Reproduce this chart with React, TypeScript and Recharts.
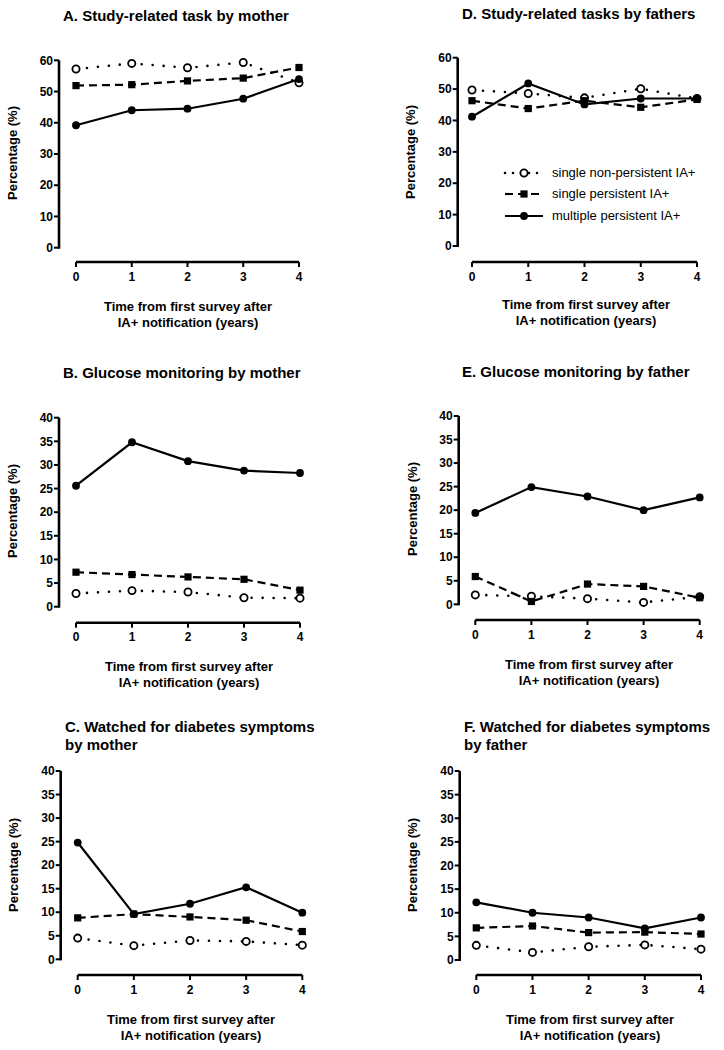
import React from 'react';
import { LineChart, Line, XAxis, YAxis } from 'recharts';

const years = [0, 1, 2, 3, 4];
const seriesNames = ['single non-persistent IA+', 'single persistent IA+', 'multiple persistent IA+'];
const xTitle = ['Time from first survey after', 'IA+ notification (years)'];
const yLabel = 'Percentage (%)';
const ticks60 = [0, 10, 20, 30, 40, 50, 60];
const ticks40 = [0, 5, 10, 15, 20, 25, 30, 35, 40];

const aNonPersistent = [57.2, 59.0, 57.6, 59.3, 52.8];
const aPersistent = [51.9, 52.2, 53.4, 54.3, 57.7];
const aMultiple = [39.2, 44.0, 44.5, 47.7, 54.0];

const dNonPersistent = [49.7, 48.6, 47.2, 50.1, 47.0];
const dPersistent = [46.3, 43.8, 46.3, 44.2, 46.7];
const dMultiple = [41.2, 51.8, 45.1, 47.0, 47.0];

const bNonPersistent = [2.8, 3.4, 3.1, 1.9, 1.8];
const bPersistent = [7.3, 6.8, 6.3, 5.8, 3.5];
const bMultiple = [25.6, 34.8, 30.8, 28.8, 28.3];

const eNonPersistent = [2.0, 1.7, 1.2, 0.4, 1.6];
const ePersistent = [5.9, 0.6, 4.3, 3.8, 1.4];
const eMultiple = [19.4, 24.9, 22.9, 20.0, 22.7];

const cNonPersistent = [4.5, 2.9, 4.0, 3.8, 3.0];
const cPersistent = [8.8, 9.6, 9.0, 8.3, 5.9];
const cMultiple = [24.8, 9.6, 11.8, 15.3, 9.9];

const fNonPersistent = [3.1, 1.6, 2.8, 3.2, 2.3];
const fPersistent = [6.8, 7.2, 5.8, 5.9, 5.5];
const fMultiple = [12.2, 10.0, 9.0, 6.7, 9.0];

const FONT = '"Liberation Sans", Arial, sans-serif';

type Panel = {
  id: string;
  title: string[];
  left: number;
  top: number;
  yAxisX: number;
  yTop: number;
  yZero: number;
  xAxisY: number;
  x0: number;
  x4: number;
  yMax: number;
  yTicks: number[];
  nonPersistent: number[];
  persistent: number[];
  multiple: number[];
  titleLeft: number;
  titleY: number;
  xTitleCx: number;
  xTitleY: number;
  yLabelCx: number;
  yLabelCy: number;
};

const panels: Panel[] = [
  { id: 'A', title: ['A. Study-related task by mother'], left: 0, top: 0, yAxisX: 59, yTop: 60.3, yZero: 247.7, xAxisY: 262, x0: 76, x4: 299, yMax: 60, yTicks: ticks60, nonPersistent: aNonPersistent, persistent: aPersistent, multiple: aMultiple, titleLeft: 63, titleY: 16, xTitleCx: 188, xTitleY: 307, yLabelCx: 12, yLabelCy: 153 },
  { id: 'D', title: ['D. Study-related tasks by fathers'], left: 362, top: 0, yAxisX: 457.7, yTop: 57.7, yZero: 246, xAxisY: 262, x0: 472, x4: 697, yMax: 60, yTicks: ticks60, nonPersistent: dNonPersistent, persistent: dPersistent, multiple: dMultiple, titleLeft: 462, titleY: 14, xTitleCx: 586, xTitleY: 305, yLabelCx: 410, yLabelCy: 152 },
  { id: 'B', title: ['B. Glucose monitoring by mother'], left: 0, top: 340, yAxisX: 59, yTop: 417.7, yZero: 606.7, xAxisY: 622.7, x0: 76, x4: 300, yMax: 40, yTicks: ticks40, nonPersistent: bNonPersistent, persistent: bPersistent, multiple: bMultiple, titleLeft: 63, titleY: 373, xTitleCx: 189, xTitleY: 667, yLabelCx: 12, yLabelCy: 511 },
  { id: 'E', title: ['E. Glucose monitoring by father'], left: 362, top: 340, yAxisX: 458.7, yTop: 416, yZero: 604.3, xAxisY: 620, x0: 475.3, x4: 699.7, yMax: 40, yTicks: ticks40, nonPersistent: eNonPersistent, persistent: ePersistent, multiple: eMultiple, titleLeft: 462, titleY: 372, xTitleCx: 589, xTitleY: 665, yLabelCx: 412, yLabelCy: 509 },
  { id: 'C', title: ['C. Watched for diabetes symptoms', 'by mother'], left: 0, top: 690, yAxisX: 60.7, yTop: 771, yZero: 959.3, xAxisY: 975, x0: 77.7, x4: 302.3, yMax: 40, yTicks: ticks40, nonPersistent: cNonPersistent, persistent: cPersistent, multiple: cMultiple, titleLeft: 65, titleY: 727, xTitleCx: 191, xTitleY: 1020, yLabelCx: 13, yLabelCy: 865 },
  { id: 'F', title: ['F. Watched for diabetes symptoms', 'by father'], left: 362, top: 690, yAxisX: 459.7, yTop: 771, yZero: 960, xAxisY: 975, x0: 476.3, x4: 701, yMax: 40, yTicks: ticks40, nonPersistent: fNonPersistent, persistent: fPersistent, multiple: fMultiple, titleLeft: 464, titleY: 727, xTitleCx: 590, xTitleY: 1020, yLabelCx: 412, yLabelCy: 865 },
];

const openCircle = (props: any) => (
  <circle key={`o-${props.index}`} cx={props.cx} cy={props.cy} r={3.6} fill="#fff" stroke="#000" strokeWidth={1.8} />
);
const square = (props: any) => (
  <rect key={`s-${props.index}`} x={props.cx - 3.6} y={props.cy - 3.6} width={7.2} height={7.2} fill="#000" />
);
const filledCircle = (props: any) => (
  <circle key={`f-${props.index}`} cx={props.cx} cy={props.cy} r={3.9} fill="#000" />
);

const tickStyle = { fill: '#000', fontSize: 12, fontWeight: 700, fontFamily: FONT };

const PanelChart: React.FC<{ p: Panel }> = ({ p }) => {
  const data = years.map((year, i) => ({
    year,
    nonPersistent: p.nonPersistent[i],
    persistent: p.persistent[i],
    multiple: p.multiple[i],
  }));
  const yAxisWidth = 40;
  const height = p.xAxisY - p.top + 30;
  const padLeft = p.x0 - p.yAxisX;
  const padBottom = p.xAxisY - p.yZero;
  return (
    <div style={{ position: 'absolute', left: p.left, top: p.top }}>
      <LineChart
        width={362}
        height={height}
        data={data}
        margin={{ top: p.yTop - p.top, left: p.yAxisX - p.left - yAxisWidth, right: p.left + 362 - p.x4, bottom: 5 }}
      >
        <XAxis
          dataKey="year"
          type="number"
          domain={[0, 4]}
          ticks={years}
          height={25}
          padding={{ left: padLeft, right: 0 }}
          tick={tickStyle}
          tickSize={5}
          tickMargin={5}
          axisLine={{ stroke: '#000', strokeWidth: 2.6, strokeDasharray: `0 ${padLeft} 1000` }}
          tickLine={{ stroke: '#000', strokeWidth: 2 }}
        />
        <YAxis
          type="number"
          domain={[0, p.yMax]}
          ticks={p.yTicks}
          width={yAxisWidth}
          padding={{ top: 0, bottom: padBottom }}
          tick={tickStyle}
          tickSize={5}
          tickMargin={1}
          interval={0}
          axisLine={{ stroke: '#000', strokeWidth: 2.6, strokeDasharray: `${p.yZero - p.yTop + 1} 1000` }}
          tickLine={{ stroke: '#000', strokeWidth: 2 }}
        />
        <Line type="linear" dataKey="nonPersistent" name={seriesNames[0]} stroke="#000" strokeWidth={2.6} strokeDasharray="0 11" strokeLinecap="round" dot={openCircle} activeDot={false} isAnimationActive={false} />
        <Line type="linear" dataKey="persistent" name={seriesNames[1]} stroke="#000" strokeWidth={2.2} strokeDasharray="8 5" dot={square} activeDot={false} isAnimationActive={false} />
        <Line type="linear" dataKey="multiple" name={seriesNames[2]} stroke="#000" strokeWidth={2.2} dot={filledCircle} activeDot={false} isAnimationActive={false} />
      </LineChart>
    </div>
  );
};

const textBase: React.CSSProperties = { position: 'absolute', fontFamily: FONT, color: '#000', whiteSpace: 'nowrap' };

const PanelText: React.FC<{ p: Panel }> = ({ p }) => (
  <>
    <div style={{ ...textBase, left: p.titleLeft, top: p.titleY - 9, fontSize: 15, fontWeight: 700, lineHeight: '18px' }}>
      {p.title.map((t) => (
        <div key={t}>{t}</div>
      ))}
    </div>
    <div style={{ ...textBase, left: p.xTitleCx - 150, width: 300, top: p.xTitleY - 8, fontSize: 13, fontWeight: 700, lineHeight: '15.5px', textAlign: 'center' }}>
      {xTitle.map((t) => (
        <div key={t}>{t}</div>
      ))}
    </div>
    <div style={{ ...textBase, left: p.yLabelCx, top: p.yLabelCy, fontSize: 13, fontWeight: 700, transform: 'translate(-50%, -50%) rotate(-90deg)' }}>
      {yLabel}
    </div>
  </>
);

const legendRows = [
  { y: 173, dash: '0 8', width: 2.6, cap: 'round', marker: 'open' },
  { y: 194, dash: '8 5', width: 2.2, cap: 'butt', marker: 'square' },
  { y: 216, dash: undefined, width: 2.2, cap: 'butt', marker: 'filled' },
];

const LegendBlock: React.FC = () => (
  <>
    {legendRows.map((r, i) => (
      <div key={seriesNames[i]} style={{ position: 'absolute', left: 503, top: r.y - 8 }}>
        <svg width={42} height={16} style={{ position: 'absolute', left: 0, top: 0 }}>
          <line x1={2} y1={8} x2={40} y2={8} stroke="#000" strokeWidth={r.width} strokeDasharray={r.dash} strokeLinecap={r.cap as any} />
          {r.marker === 'open' && <circle cx={21} cy={8} r={3.6} fill="#fff" stroke="#000" strokeWidth={1.8} />}
          {r.marker === 'square' && <rect x={17.4} y={4.4} width={7.2} height={7.2} fill="#000" />}
          {r.marker === 'filled' && <circle cx={21} cy={8} r={3.9} fill="#000" />}
        </svg>
        <div style={{ ...textBase, left: 49, top: 0, fontSize: 13, lineHeight: '16px' }}>{seriesNames[i]}</div>
      </div>
    ))}
  </>
);

const App: React.FC = () => (
  <div style={{ position: 'absolute', left: 0, top: 0, width: 724, height: 1050, background: '#fff', overflow: 'hidden' }}>
    {panels.map((p) => (
      <React.Fragment key={p.id}>
        <PanelChart p={p} />
        <PanelText p={p} />
      </React.Fragment>
    ))}
    <LegendBlock />
  </div>
);

export default App;
